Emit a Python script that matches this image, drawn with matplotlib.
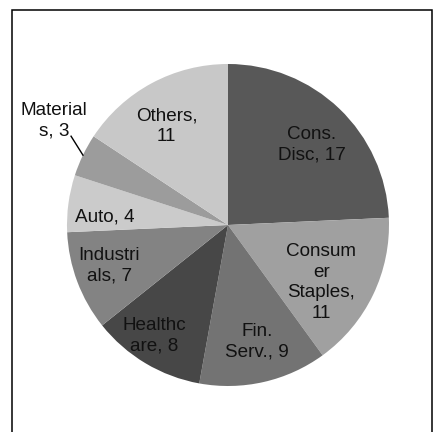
import numpy as np
import matplotlib.pyplot as plt
from matplotlib.patches import Rectangle

plt.rcParams['font.family'] = ['Liberation Sans', 'DejaVu Sans']

# sector weights, clockwise from 12 o'clock
sectors = ['Cons. Disc', 'Consumer Staples', 'Fin. Serv.', 'Healthcare',
           'Industrials', 'Auto', 'Materials', 'Others']
counts = [17, 11, 9, 8, 7, 4, 3, 11]
# labels as wrapped in the original
label_text = ['Cons.\nDisc, 17', 'Consum\ner\nStaples,\n11', 'Fin.\nServ., 9',
              'Healthc\nare, 8', 'Industri\nals, 7', 'Auto, 4',
              'Material\ns, 3', 'Others,\n11']
colors = ['#585858', '#a0a0a0', '#737373', '#474747',
          '#838383', '#cbcbcb', '#9c9c9c', '#c8c8c8']
# label distance (fraction of radius) and angle nudge per slice
label_r = [0.72, 0.68, 0.75, 0.83, 0.78, 0.77, 1.26, 0.72]
label_da = [-2.7, -6.0, 1.0, -2.8, -1.4, 4.0, -5.3, 3.7]

W, H = 433, 432
fig = plt.figure(figsize=(W / 100, H / 100), dpi=100)

# outer frame (bottom runs off the image)
fig.patches.append(Rectangle((12 / W, -0.05), 420 / W, 1.05 - 10 / H,
                             transform=fig.transFigure, fill=False,
                             edgecolor='black', linewidth=1.1))

cx, cy, r = 228, 225, 161
ax = fig.add_axes([(cx - r) / W, (H - cy - r) / H, 2 * r / W, 2 * r / H])
wedges, _ = ax.pie(counts, colors=colors, startangle=90, counterclock=False,
                   radius=1, wedgeprops=dict(linewidth=0))
ax.set_xlim(-1, 1)
ax.set_ylim(-1, 1)
ax.set_aspect('equal')
ax.axis('off')

for w, txt, lr, da in zip(wedges, label_text, label_r, label_da):
    mid = np.deg2rad((w.theta1 + w.theta2) / 2 + da)
    ax.text(lr * np.cos(mid), lr * np.sin(mid), txt, ha='center', va='center',
            fontsize=13.6, linespacing=1.27, color='#111111', clip_on=False)

# leader line for Materials
m = wedges[6]
a0 = np.deg2rad((m.theta1 + m.theta2) / 2)
a1 = np.deg2rad(150.5)
ax.plot([1.0 * np.cos(a0), 1.12 * np.cos(a1)],
        [1.0 * np.sin(a0), 1.12 * np.sin(a1)],
        color='black', linewidth=1.0, clip_on=False)

fig.savefig('out.png', dpi=100)
